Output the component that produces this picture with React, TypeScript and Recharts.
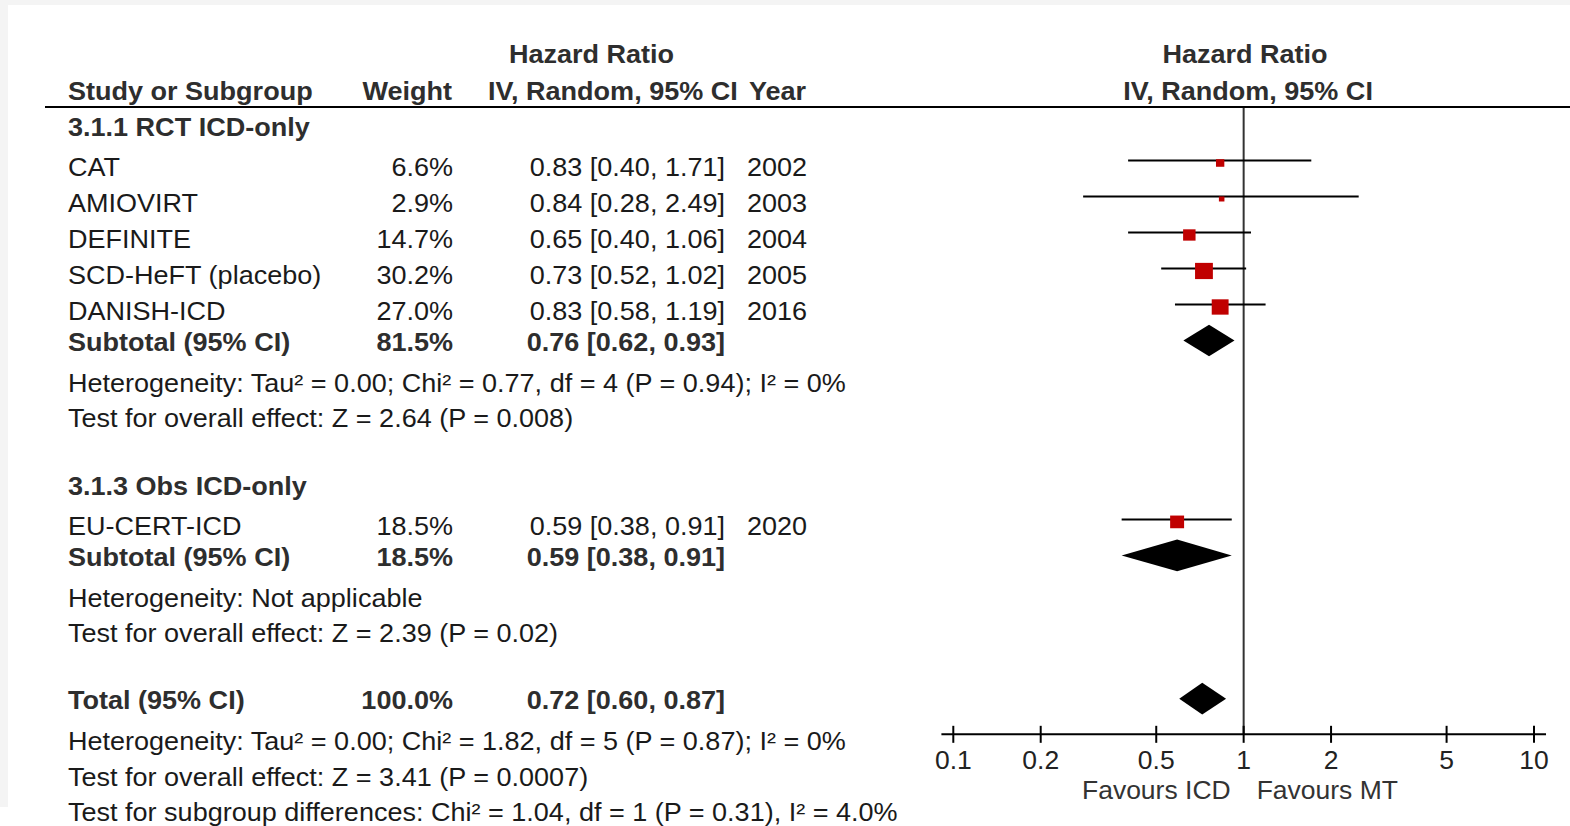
import React from 'react';
import { ComposedChart, XAxis, YAxis, Scatter, ErrorBar, Area, ReferenceLine } from 'recharts';

// ---- data (row positions are in table-row units, 0 = header baseline) ----
const groupNames = ['3.1.1 RCT ICD-only', '3.1.3 Obs ICD-only'];
const groupRows = [1.0, 10.97];

const studyNames = ['CAT', 'AMIOVIRT', 'DEFINITE', 'SCD-HeFT (placebo)', 'DANISH-ICD', 'EU-CERT-ICD'];
const studyWeights = [6.6, 2.9, 14.7, 30.2, 27.0, 18.5];
const studyHR = [0.83, 0.84, 0.65, 0.73, 0.83, 0.59];
const studyLow = [0.4, 0.28, 0.4, 0.52, 0.58, 0.38];
const studyHigh = [1.71, 2.49, 1.06, 1.02, 1.19, 0.91];
const studyYears = [2002, 2003, 2004, 2005, 2016, 2020];
const studyRows = [2.11, 3.11, 4.11, 5.11, 6.11, 12.08];

const pooledNames = ['Subtotal (95% CI)', 'Subtotal (95% CI)', 'Total (95% CI)'];
const pooledWeights = [81.5, 18.5, 100.0];
const pooledHR = [0.76, 0.59, 0.72];
const pooledLow = [0.62, 0.38, 0.6];
const pooledHigh = [0.93, 0.91, 0.87];
const pooledRows = [6.97, 12.94, 16.92];

const noteLines = [
  'Heterogeneity: Tau² = 0.00; Chi² = 0.77, df = 4 (P = 0.94); I² = 0%',
  'Test for overall effect: Z = 2.64 (P = 0.008)',
  'Heterogeneity: Not applicable',
  'Test for overall effect: Z = 2.39 (P = 0.02)',
  'Heterogeneity: Tau² = 0.00; Chi² = 1.82, df = 5 (P = 0.87); I² = 0%',
  'Test for overall effect: Z = 3.41 (P = 0.0007)',
  'Test for subgroup differences: Chi² = 1.04, df = 1 (P = 0.31), I² = 4.0%',
];
const noteRows = [8.11, 9.08, 14.08, 15.06, 18.06, 19.06, 20.03];

const axisTicks = [0.1, 0.2, 0.5, 1, 2, 5, 10];
const axisSpan = [0.091, 11];
const axisRow = 17.62;
const nullLineTop = 0.22;
const favoursRow = 19.42;
const favourLabels = ['Favours ICD', 'Favours MT'];

// ---- style ----
const FONT = "'Liberation Sans', Arial, Helvetica, sans-serif";
const STRETCH = 1.06;
const INK = '#1a1a1a';
const BOLD_INK = '#2e2e2e';
const RED = '#c00000';
const LINE_LIFT = 0.43;
const DIAMOND_LIFT = 0.29;
const DIAMOND_HALF = 0.44;

const fmtCI = (hr: number, lo: number, hi: number) =>
  `${hr.toFixed(2)} [${lo.toFixed(2)}, ${hi.toFixed(2)}]`;
const fmtW = (w: number) => `${w.toFixed(1)}%`;

function Label({ x, y, anchor = 'start', bold = false, size = 25.5, fill, children }: any) {
  return (
    <text
      transform={`translate(${x},${y}) scale(${STRETCH},1)`}
      textAnchor={anchor}
      fontFamily={FONT}
      fontSize={size}
      fontWeight={bold ? 700 : 400}
      fill={fill ?? (bold ? BOLD_INK : INK)}
    >
      {children}
    </text>
  );
}

const tableRows = [
  ...groupNames.map((name, i) => ({ x: 1, y: groupRows[i], kind: 'group', name })),
  ...studyNames.map((name, i) => ({
    x: 1,
    y: studyRows[i],
    kind: 'study',
    name,
    weight: fmtW(studyWeights[i]),
    ci: fmtCI(studyHR[i], studyLow[i], studyHigh[i]),
    year: String(studyYears[i]),
  })),
  ...pooledNames.map((name, i) => ({
    x: 1,
    y: pooledRows[i],
    kind: 'pooled',
    name,
    weight: fmtW(pooledWeights[i]),
    ci: fmtCI(pooledHR[i], pooledLow[i], pooledHigh[i]),
  })),
  ...noteLines.map((name, i) => ({ x: 1, y: noteRows[i], kind: 'note', name })),
];

const studyPoints = studyNames.map((name, i) => ({
  name,
  x: studyHR[i],
  y: studyRows[i] - LINE_LIFT,
  err: [studyHR[i] - studyLow[i], studyHigh[i] - studyHR[i]],
  weight: studyWeights[i],
}));

const diamonds = pooledHR.map((hr, i) => {
  const yc = pooledRows[i] - DIAMOND_LIFT;
  return [
    { x: pooledLow[i], band: [yc, yc] },
    { x: hr, band: [yc - DIAMOND_HALF, yc + DIAMOND_HALF] },
    { x: pooledHigh[i], band: [yc, yc] },
  ];
});

const tickPoints = axisTicks.map((t) => ({ x: t, y: axisRow, label: String(t) }));
const favoursPoint = [{ x: 1, y: favoursRow }];

const TableRow = (props: any) => {
  const { cy, payload } = props;
  const p = payload;
  if (p.kind === 'group') return <Label x={68} y={cy} bold>{p.name}</Label>;
  if (p.kind === 'note') return <Label x={68} y={cy}>{p.name}</Label>;
  const bold = p.kind === 'pooled';
  return (
    <g>
      <Label x={68} y={cy} bold={bold}>{p.name}</Label>
      <Label x={453} y={cy} anchor="end" bold={bold}>{p.weight}</Label>
      <Label x={725} y={cy} anchor="end" bold={bold}>{p.ci}</Label>
      {p.year && <Label x={747} y={cy}>{p.year}</Label>}
    </g>
  );
};

const StudySquare = (props: any) => {
  const { cx, cy, payload } = props;
  const h = 2.95 * Math.sqrt(payload.weight);
  const w = h * 1.1;
  return <rect x={cx - w / 2} y={cy + 2.5 - h / 2} width={w} height={h} fill={RED} />;
};

const AxisTick = (props: any) => {
  const { cx, cy, payload } = props;
  return (
    <g>
      <line x1={cx} x2={cx} y1={cy - 8.5} y2={cy + 8.5} stroke="#000" strokeWidth={2} />
      <Label x={cx} y={cy + 35} anchor="middle" size={25} fill="#222">{payload.label}</Label>
    </g>
  );
};

const Favours = (props: any) => {
  const { cx, cy } = props;
  return (
    <g>
      <Label x={cx - 13} y={cy} anchor="end" size={25} fill="#333">{favourLabels[0]}</Label>
      <Label x={cx + 13} y={cy} anchor="start" size={25} fill="#333">{favourLabels[1]}</Label>
    </g>
  );
};

export default function App() {
  return (
    <div
      style={{
        position: 'fixed',
        left: 0,
        top: 0,
        width: 1570,
        height: 826,
        overflow: 'hidden',
        background: '#f4f4f4',
      }}
    >
      <div style={{ position: 'absolute', left: 8, top: 5, width: 1562, height: 802, background: '#fff' }} />
      <div style={{ position: 'absolute', left: 0, top: 807, width: 1570, height: 19, background: '#fff' }} />
      <div style={{ position: 'absolute', left: 0, top: 0 }}>
        <ComposedChart
          width={1570}
          height={860}
          margin={{ top: 100, right: 36, bottom: 4, left: 953.3 }}
        >
          <XAxis
            type="number"
            dataKey="x"
            scale="log"
            domain={[0.1, 10]}
            hide
            height={0}
          />
          <YAxis
            type="number"
            dataKey="y"
            domain={[0, 21]}
            tickCount={8}
            reversed
            hide
            width={0}
          />
          <ReferenceLine
            segment={[{ x: 1, y: nullLineTop }, { x: 1, y: axisRow }]}
            stroke="#333"
            strokeWidth={2}
            ifOverflow="visible"
          />
          <ReferenceLine
            segment={[{ x: axisSpan[0], y: axisRow }, { x: axisSpan[1], y: axisRow }]}
            stroke="#000"
            strokeWidth={2}
            ifOverflow="visible"
          />
          {diamonds.map((d, i) => (
            <Area
              key={`diamond-${i}`}
              data={d}
              dataKey="band"
              type="linear"
              stroke="none"
              fill="#000"
              fillOpacity={1}
              dot={false}
              activeDot={false}
              isAnimationActive={false}
            />
          ))}
          <Scatter data={studyPoints} shape={StudySquare} isAnimationActive={false}>
            <ErrorBar
              dataKey="err"
              direction="x"
              width={0}
              stroke="#000"
              strokeWidth={2}
              isAnimationActive={false}
            />
          </Scatter>
          <Scatter data={tableRows} shape={TableRow} isAnimationActive={false} />
          <Scatter data={tickPoints} shape={AxisTick} isAnimationActive={false} />
          <Scatter data={favoursPoint} shape={Favours} isAnimationActive={false} />
        </ComposedChart>
      </div>
      <svg
        width={1570}
        height={826}
        style={{ position: 'absolute', left: 0, top: 0, pointerEvents: 'none' }}
      >
        <Label x={591.5} y={63.3} anchor="middle" bold>Hazard Ratio</Label>
        <Label x={68} y={100} bold>Study or Subgroup</Label>
        <Label x={452} y={100} anchor="end" bold>Weight</Label>
        <Label x={488} y={100} bold>IV, Random, 95% CI</Label>
        <Label x={749} y={100} bold>Year</Label>
        <Label x={1245} y={63.3} anchor="middle" bold>Hazard Ratio</Label>
        <Label x={1248} y={100} anchor="middle" bold>IV, Random, 95% CI</Label>
        <rect x={45} y={106} width={1525} height={2} fill="#000" />
      </svg>
    </div>
  );
}
